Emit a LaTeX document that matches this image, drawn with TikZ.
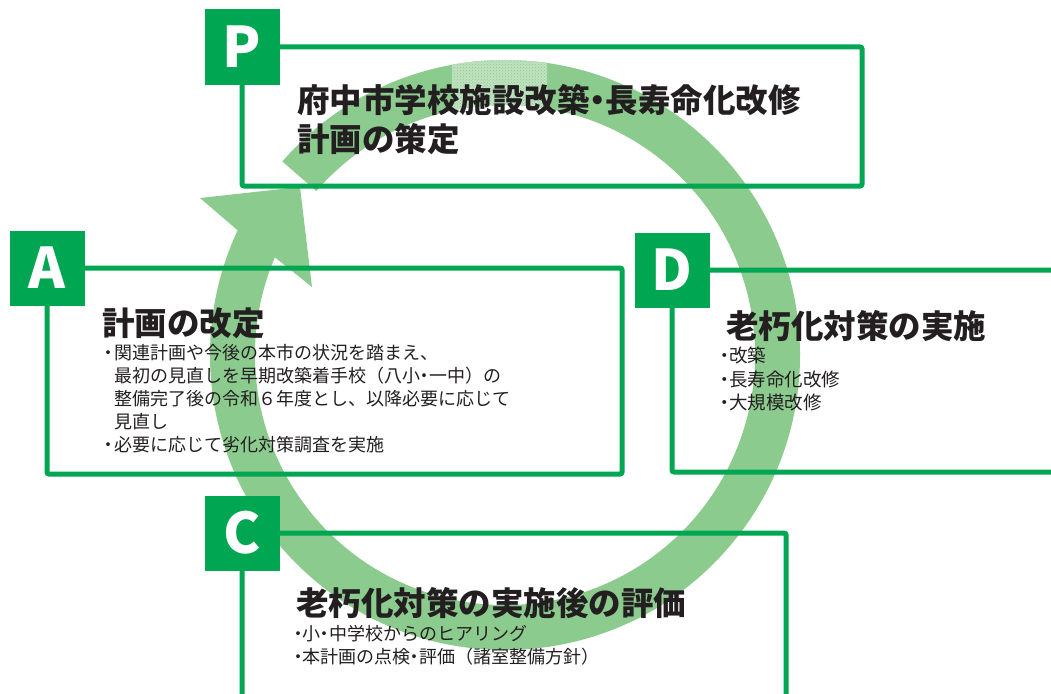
\documentclass[tikz,border=0pt]{standalone}
\usepackage{fontspec}
\usepackage{xcolor}
\usepackage{tikz}
\usetikzlibrary{patterns}
\setmainfont{Noto Sans CJK JP}

\definecolor{boxgreen}{RGB}{0,166,81}
\definecolor{ringgreen}{RGB}{140,203,142}
\definecolor{textgray}{RGB}{35,31,32}

\newcommand{\itemdot}[1][11pt]{\makebox[#1][c]{・}}
\newcommand{\halfdot}{\makebox[0.5em][c]{・}}

\tikzset{
    stagebox/.style={draw=boxgreen, line width=5pt, rounded corners=2pt, inner sep=0pt, outer sep=0pt},
    stagetag/.style={fill=boxgreen, minimum size=75pt, inner sep=0pt, text=white, font=\fontsize{56}{56}\selectfont\bfseries},
    stagetitle/.style={anchor=west, inner sep=0pt, text=textgray, align=left, font=\fontsize{32.5}{39}\selectfont\bfseries},
    stagetext/.style={anchor=north west, inner sep=0pt, text=textgray, align=left, font=\fontsize{18}{23}\selectfont}
}

\begin{document}
\begin{tikzpicture}[x=1pt, y=-1pt]
    \useasboundingbox (0,0) rectangle (1051,693);
    \clip (0,0) rectangle (1051,693);

    % PDCA ring with arrow head
    \coordinate (hub) at (505,355);
    \coordinate (wingL) at (200,198);
    \coordinate (tip) at (300,187);
    \coordinate (wingR) at (312,287);
    \fill[ringgreen] ([shift={(-139:295)}]hub) arc[start angle=-139, end angle=205, radius=295]
        -- (wingL) -- (tip) -- (wingR)
        -- ([shift={(203:250)}]hub) arc[start angle=203, end angle=-139, radius=250] -- cycle;

    % light patch at the top of the ring
    \begin{scope}
        \clip (452,0) rectangle (547,200);
        \fill[ringgreen!55, even odd rule] (hub) circle[radius=295] (hub) circle[radius=250];
        \fill[pattern=crosshatch dots, pattern color=ringgreen, even odd rule] (hub) circle[radius=295] (hub) circle[radius=250];
    \end{scope}

    % Stage boxes
    \node[stagebox, minimum width=620, minimum height=139] (pbox) at (552,116.5) {};
    \node[stagebox, minimum width=575, minimum height=206] (abox) at (334.5,371) {};
    \node[stagebox, minimum width=408, minimum height=202] (dbox) at (876,371) {};
    \node[stagebox, minimum width=544, minimum height=187] (cbox) at (514,626.5) {};

    % Letter tags on the corners
    \node[stagetag] (ptag) at (pbox.north west) {P};
    \node[stagetag] (atag) at (abox.north west) {A};
    \node[stagetag] (dtag) at (dbox.north west) {D};
    \node[stagetag] (ctag) at (cbox.north west) {C};

    % Plan
    \node[stagetitle] (ptitle) at (297,120) {府中市学校施設改築\halfdot 長寿命化改修\\計画の策定};

    % Act
    \node[stagetitle] (atitle) at (102,323) {計画の改定};
    \node[stagetext] (atext) at (103,344) {\itemdot 関連計画や今後の本市の状況を踏まえ、\\\hspace*{11pt}最初の見直しを早期改築着手校（八小\halfdot 一中）の\\\hspace*{11pt}整備完了後の令和６年度とし、以降必要に応じて\\\hspace*{11pt}見直し\\\itemdot 必要に応じて劣化対策調査を実施};

    % Do
    \node[stagetitle] (dtitle) at (726,326) {老朽化対策の実施};
    \node[stagetext, font=\fontsize{18.5}{23.5}\selectfont] (dtext) at (721,347) {\itemdot[8pt]改築\\\itemdot[8pt]長寿命化改修\\\itemdot[8pt]大規模改修};

    % Check
    \node[stagetitle] (ctitle) at (296,603) {老朽化対策の実施後の評価};
    \node[stagetext] (ctext) at (294,625) {\itemdot[8pt]小\halfdot 中学校からのヒアリング\\\itemdot[8pt]本計画の点検\halfdot 評価（諸室整備方針）};
\end{tikzpicture}
\end{document}
